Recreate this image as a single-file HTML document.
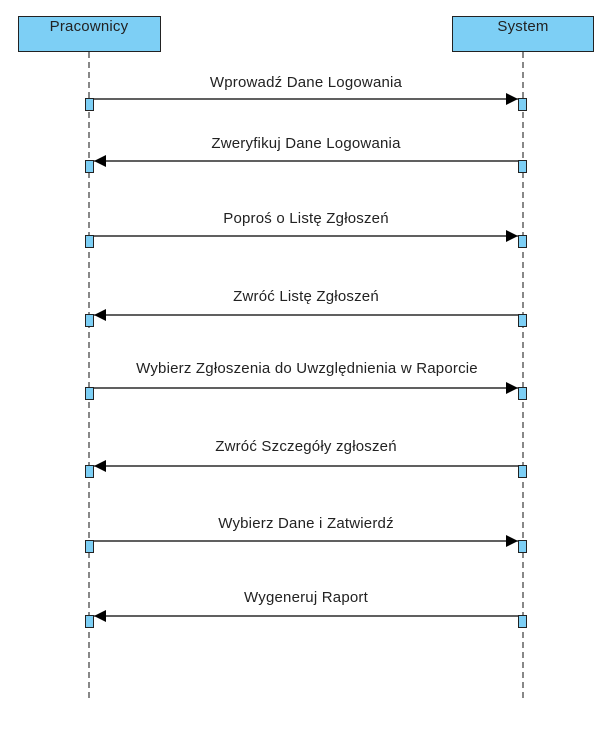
<!DOCTYPE html>
<html><head><meta charset="utf-8"><style>
html,body{margin:0;padding:0;background:#fff;}
svg{display:block;}
text{font-family:"Liberation Sans",sans-serif;font-size:15px;fill:#222;letter-spacing:0.2px;}
</style></head><body>
<svg width="616" height="737" viewBox="0 0 616 737" xmlns="http://www.w3.org/2000/svg">
<defs>
<marker id="a" markerWidth="12" markerHeight="12" refX="12" refY="6" orient="auto" markerUnits="userSpaceOnUse">
<path d="M0,0 L12,6 L0,12 Z" fill="#000"/>
</marker>
</defs>
<line x1="89" y1="52" x2="89" y2="702" stroke="#888" stroke-width="2" stroke-dasharray="6,4"/>
<line x1="523" y1="52" x2="523" y2="702" stroke="#888" stroke-width="2" stroke-dasharray="6,4"/>
<rect x="18.5" y="16.5" width="142" height="35" fill="#7dcff5" stroke="#222"/>
<rect x="452.5" y="16.5" width="141" height="35" fill="#7dcff5" stroke="#222"/>
<text x="89" y="31" text-anchor="middle" font-size="16">Pracownicy</text>
<text x="523" y="31" text-anchor="middle" font-size="16">System</text>
<g stroke="#000" stroke-width="1.3">
<line x1="93" y1="99" x2="518" y2="99" marker-end="url(#a)"/>
<line x1="518" y1="161" x2="94" y2="161" marker-end="url(#a)"/>
<line x1="93" y1="236" x2="518" y2="236" marker-end="url(#a)"/>
<line x1="518" y1="315" x2="94" y2="315" marker-end="url(#a)"/>
<line x1="93" y1="388" x2="518" y2="388" marker-end="url(#a)"/>
<line x1="518" y1="466" x2="94" y2="466" marker-end="url(#a)"/>
<line x1="93" y1="541" x2="518" y2="541" marker-end="url(#a)"/>
<line x1="518" y1="616" x2="94" y2="616" marker-end="url(#a)"/>
</g>
<g fill="#7dcff5" stroke="#222">
<rect x="85.5" y="98.5" width="8" height="12"/><rect x="518.5" y="98.5" width="8" height="12"/>
<rect x="85.5" y="160.5" width="8" height="12"/><rect x="518.5" y="160.5" width="8" height="12"/>
<rect x="85.5" y="235.5" width="8" height="12"/><rect x="518.5" y="235.5" width="8" height="12"/>
<rect x="85.5" y="314.5" width="8" height="12"/><rect x="518.5" y="314.5" width="8" height="12"/>
<rect x="85.5" y="387.5" width="8" height="12"/><rect x="518.5" y="387.5" width="8" height="12"/>
<rect x="85.5" y="465.5" width="8" height="12"/><rect x="518.5" y="465.5" width="8" height="12"/>
<rect x="85.5" y="540.5" width="8" height="12"/><rect x="518.5" y="540.5" width="8" height="12"/>
<rect x="85.5" y="615.5" width="8" height="12"/><rect x="518.5" y="615.5" width="8" height="12"/>
</g>
<g text-anchor="middle">
<text x="306" y="87">Wprowadź Dane Logowania</text>
<text x="306" y="148">Zweryfikuj Dane Logowania</text>
<text x="306" y="223">Poproś o Listę Zgłoszeń</text>
<text x="306" y="301">Zwróć Listę Zgłoszeń</text>
<text x="307" y="373">Wybierz Zgłoszenia do Uwzględnienia w Raporcie</text>
<text x="306" y="451">Zwróć Szczegóły zgłoszeń</text>
<text x="306" y="528">Wybierz Dane i Zatwierdź</text>
<text x="306" y="602">Wygeneruj Raport</text>
</g>
</svg>
</body></html>
